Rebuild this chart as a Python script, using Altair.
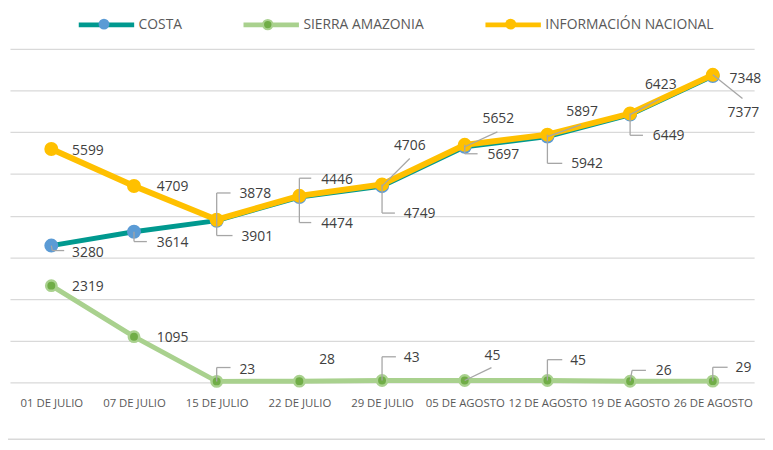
import json
import altair as alt
import pandas as pd

# ---------------- data ----------------
categories = ["01 DE JULIO", "07 DE JULIO", "15 DE JULIO", "22 DE JULIO", "29 DE JULIO",
              "05 DE AGOSTO", "12 DE AGOSTO", "19 DE AGOSTO", "26 DE AGOSTO"]
series_names = ["COSTA", "SIERRA AMAZONIA", "INFORMACIÓN NACIONAL"]
costa = [3280, 3614, 3878, 4446, 4706, 5652, 5897, 6423, 7348]
sierra = [2319, 1095, 23, 28, 43, 45, 45, 26, 29]
nacional = [5599, 4709, 3901, 4474, 4749, 5697, 5942, 6449, 7377]

# ---------------- styling ----------------
line_colors = ["#00998F", "#A9D18E", "#FFC000"]
marker_fill = {"COSTA": "#5B9BD5", "SIERRA AMAZONIA": "#70AD47", "INFORMACIÓN NACIONAL": "#FFC000"}
FONT = "Open Sans"

# label placement (pixel offsets from each point)
label_dx = {
    "COSTA": [21, 23, 23, 22, 12, 18, 19, 15, 17],
    "SIERRA AMAZONIA": [21, 23, 23, 20, 22, 20, 23, 26, 23],
    "INFORMACIÓN NACIONAL": [21, 23, 25, 22, 22, 23, 24, 23, 15],
}
label_dy = {
    "COSTA": [8, 11, -27, -17, -41, -28, -25, -30, 3],
    "SIERRA AMAZONIA": [1, 1, -11, -21, -23, -25, -20, -10, -13],
    "INFORMACIÓN NACIONAL": [2, 1, 17, 28, 30, 10, 30, 23, 39],
}
# leader line segments (pixel offsets from each point)
leaders = {
    "COSTA": [
        [(0, 0, 1, 5), (1, 5, 13, 5)],
        [(0, 0, 0, 10), (0, 10, 13, 10)],
        [(0, 0, 0, -28), (0, -28, 14, -28)],
        [(0, 0, 0, -19), (0, -19, 12, -19)],
        [(0, 0, 28, -28)],
        [(0, 0, 33, -15)],
        [(0, 0, 34, -12)],
        [(0, 0, 30, -16)],
        [],
    ],
    "SIERRA AMAZONIA": [
        [], [],
        [(0, 0, 0, -14), (0, -14, 14, -14)],
        [],
        [(0, 0, 0, -24), (0, -24, 14, -24)],
        [(0, 0, 27, -13)],
        [(0, 0, 0, -21), (0, -21, 15, -21)],
        [(0, 0, 2, -11), (2, -11, 16, -11)],
        [(0, 0, 0, -14), (0, -14, 15, -14)],
    ],
    "INFORMACIÓN NACIONAL": [
        [], [],
        [(0, 0, 0, 16), (0, 16, 16, 16)],
        [(0, 0, 0, 27), (0, 27, 12, 27)],
        [(0, 0, 0, 29), (0, 29, 13, 29)],
        [(0, 0, 0, 9), (0, 9, 13, 9)],
        [(0, 0, 0, 29), (0, 29, 15, 29)],
        [(0, 0, 0, 22), (0, 22, 13, 22)],
        [(0, 0, 30, 24)],
    ],
}

values = {"COSTA": costa, "SIERRA AMAZONIA": sierra, "INFORMACIÓN NACIONAL": nacional}

rows = []
for s in series_names:
    for i, v in enumerate(values[s]):
        rows.append({"serie": s, "idx": i, "val": v,
                     "dx": label_dx[s][i], "dy": label_dy[s][i]})
df = pd.DataFrame(rows)

lead_rows = []
for s in series_names:
    for i, segs in enumerate(leaders[s]):
        for (a, b, c, d) in segs:
            lead_rows.append({"serie": s, "idx": i, "val": values[s][i],
                              "ax": a, "ay": b, "bx": c, "by": d})
lead_df = pd.DataFrame(lead_rows)

# ---------------- encodings ----------------
x_enc = alt.X(
    "idx:Q",
    scale=alt.Scale(domain=[-0.5, 8.5], nice=False, zero=False),
    axis=alt.Axis(
        values=list(range(9)),
        labelExpr=json.dumps(categories, ensure_ascii=False) + "[datum.value]",
        title=None, grid=False, ticks=False, tickSize=0, domain=False,
        labelFont=FONT, labelFontSize=11.5, labelColor="#595959",
        labelPadding=15, labelOverlap=False, labelBound=False, labelFlush=False,
    ),
)
y_enc = alt.Y(
    "val:Q",
    scale=alt.Scale(domain=[0, 8000], nice=False),
    axis=alt.Axis(values=list(range(0, 8001, 1000)), labels=False, ticks=False,
                  domain=False, title=None, gridColor="#D9D9D9", gridWidth=1.3),
)

stroke_enc = alt.Stroke(
    "serie:N",
    scale=alt.Scale(domain=series_names, range=line_colors),
    legend=alt.Legend(
        orient="none", legendX=67, legendY=-55, direction="horizontal", title=None,
        symbolType="stroke", symbolSize=3136, symbolStrokeWidth=5,
        labelFont=FONT, labelFontSize=14, labelColor="#595959", labelOffset=2,
        labelLimit=400, columnPadding=51.5, padding=0, zindex=0,
    ),
)

# marker legend positions (one marker per legend entry, centred on the line symbol)
marker_legend_x = {"COSTA": 89.5, "SIERRA AMAZONIA": 254.5, "INFORMACIÓN NACIONAL": 500.5}
marker_legend_style = {
    "COSTA": dict(symbolSize=121, symbolStrokeWidth=0),
    "SIERRA AMAZONIA": dict(symbolSize=90, symbolStrokeColor="#A9D18E", symbolStrokeWidth=2),
    "INFORMACIÓN NACIONAL": dict(symbolSize=121, symbolStrokeWidth=0),
}

line_width = {"COSTA": 5, "SIERRA AMAZONIA": 5, "INFORMACIÓN NACIONAL": 6}
marker_style = {
    "COSTA": dict(size=200, stroke="#5B9BD5", strokeWidth=0),
    "SIERRA AMAZONIA": dict(size=110, stroke="#A9D18E", strokeWidth=2.5),
    "INFORMACIÓN NACIONAL": dict(size=200, stroke="#FFC000", strokeWidth=0),
}

layers = []
for s in ["SIERRA AMAZONIA", "COSTA", "INFORMACIÓN NACIONAL"]:
    base = alt.Chart(df).transform_filter(alt.datum.serie == s)
    layers.append(base.mark_line(strokeWidth=line_width[s]).encode(x=x_enc, y=y_enc, stroke=stroke_enc))
    fill_enc = alt.Fill(
        "serie:N",
        scale=alt.Scale(domain=[s], range=[marker_fill[s]]),
        legend=alt.Legend(
            orient="none", legendX=marker_legend_x[s], legendY=-30.5, title=None,
            symbolType="circle", symbolOpacity=1, labelExpr="''", labelFontSize=11,
            labelOffset=0, padding=0, zindex=1, **marker_legend_style[s],
        ),
    )
    layers.append(base.mark_circle(opacity=1, **marker_style[s]).encode(x=x_enc, y=y_enc, fill=fill_enc))

leader_layer = alt.Chart(lead_df).mark_rule(
    color="#A6A6A6", strokeWidth=1.3,
    xOffset=alt.ExprRef("datum.ax"), x2Offset=alt.ExprRef("datum.bx"),
    yOffset=alt.ExprRef("datum.ay"), y2Offset=alt.ExprRef("datum.by"),
).encode(x=x_enc, x2=alt.X2("idx:Q"), y=y_enc, y2=alt.Y2("val:Q"))

text_layer = alt.Chart(df).mark_text(
    align="left", baseline="middle", font=FONT, fontSize=14, color="#404040",
    dx=alt.ExprRef("datum.dx"), dy=alt.ExprRef("datum.dy"),
).encode(x=x_enc, y=y_enc, text=alt.Text("val:Q", format="d"))

border = alt.Chart(pd.DataFrame({"a": [0]})).mark_rule(color="#D9D9D9", strokeWidth=1.5).encode(
    y=alt.value(394.5), x=alt.value(-2), x2=alt.value(763))

chart = alt.layer(*layers, leader_layer, text_layer, border).resolve_scale(
    fill="independent"
).properties(
    width=752, height=337,
    padding={"left": 2, "top": 39, "right": 11, "bottom": 58},
    autosize=alt.AutoSizeParams(type="none"),
    background="white",
).configure_view(stroke=None)

chart.save("out.html", embed_options={"renderer": "svg", "actions": False})
